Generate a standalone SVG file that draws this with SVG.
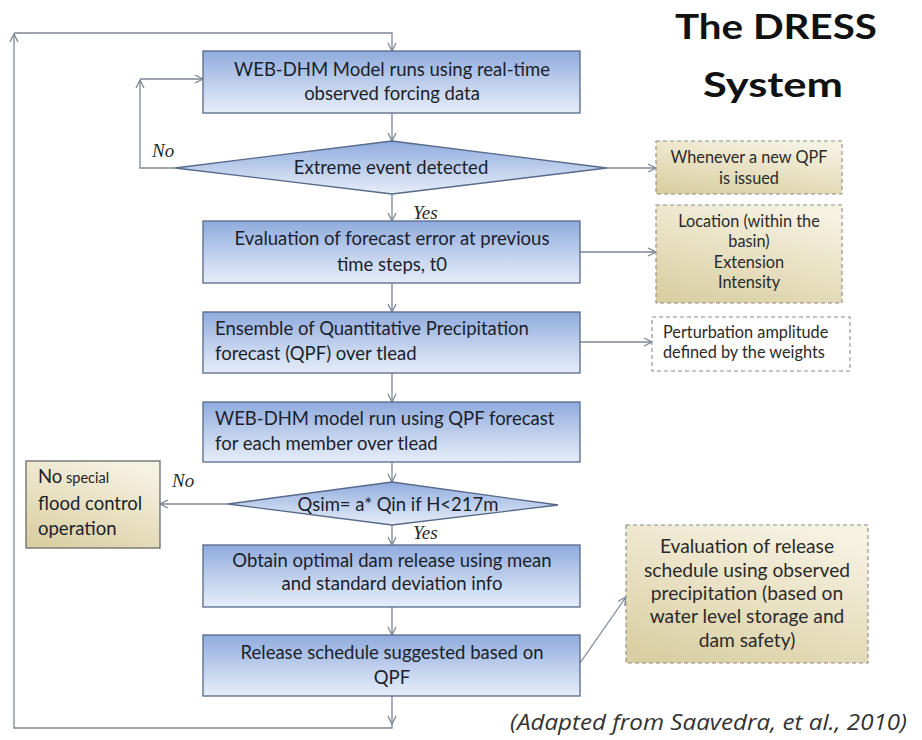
<svg xmlns="http://www.w3.org/2000/svg" width="922" height="740" viewBox="0 0 922 740">
  <defs>
    <linearGradient id="blueFill" x1="0" y1="0" x2="0" y2="1">
      <stop offset="0" stop-color="#8fabdd"/>
      <stop offset="0.55" stop-color="#c1d1ed"/>
      <stop offset="1" stop-color="#e6edf8"/>
    </linearGradient>
    <linearGradient id="tanFill" x1="0.7" y1="0" x2="0.2" y2="1">
      <stop offset="0" stop-color="#f6f2e2"/>
      <stop offset="1" stop-color="#dacfa3"/>
    </linearGradient>
    <marker id="arrow" viewBox="0 0 10 10" refX="9" refY="5" markerWidth="10" markerHeight="10" markerUnits="userSpaceOnUse" orient="auto">
      <path d="M1,1 L9,5 L1,9" fill="none" stroke="#7d8694" stroke-width="1.3"/>
    </marker>
    <style>
      .box { fill: url(#blueFill); stroke: #56698a; stroke-width: 1.3; }
      .note { fill: url(#tanFill); stroke: #8c8a86; stroke-width: 1.1; stroke-dasharray: 4 3; }
      .noteWhite { fill: #ffffff; stroke: #8c8a86; stroke-width: 1.1; stroke-dasharray: 4 3; }
      .solidNote { fill: url(#tanFill); stroke: #6a6a6a; stroke-width: 1.3; }
      .t { font-family: Lato, "Open Sans", sans-serif; font-size: 18.5px; fill: #1a1f2b; }
      .c { text-anchor: middle; }
      .s { font-family: Lato, "Open Sans", sans-serif; font-size: 16.3px; fill: #2a2a2a; }
      .m { font-family: Lato, "Open Sans", sans-serif; font-size: 19.2px; fill: #2a2a2a; }
      .lbl { font-family: "Liberation Serif", serif; font-style: italic; font-size: 19px; fill: #2a2a2a; }
      .title { font-family: Lato, "Open Sans", sans-serif; font-weight: bold; font-size: 34px; fill: #111111; text-anchor: middle; }
      .cite { font-family: "Open Sans", Lato, sans-serif; font-style: italic; font-size: 21px; fill: #333333; }
      .conn { fill: none; stroke: #7d8694; stroke-width: 1.3; }
    </style>
  </defs>

  <rect width="922" height="740" fill="#ffffff"/>

  <!-- connectors -->
  <g id="connectors" class="conn">
    <path d="M392,696 V724" marker-end="url(#arrow)"/>
    <path d="M392,724 V728 H14 V34" marker-end="url(#arrow)"/>
    <path d="M14,33 H392 V51" marker-end="url(#arrow)"/>
    <path d="M392,113 V141" marker-end="url(#arrow)"/>
    <path d="M175,168 H140 V80" marker-end="url(#arrow)"/>
    <path d="M140,79 H203" marker-end="url(#arrow)"/>
    <path d="M607,168 H656" marker-end="url(#arrow)"/>
    <path d="M392,194 V221" marker-end="url(#arrow)"/>
    <path d="M580,252 H656" marker-end="url(#arrow)"/>
    <path d="M392,283 V312" marker-end="url(#arrow)"/>
    <path d="M580,342 H652" marker-end="url(#arrow)"/>
    <path d="M392,373 V402" marker-end="url(#arrow)"/>
    <path d="M392,462 V482" marker-end="url(#arrow)"/>
    <path d="M228,504 H160" marker-end="url(#arrow)"/>
    <path d="M392,525 V545" marker-end="url(#arrow)"/>
    <path d="M392,607 V635" marker-end="url(#arrow)"/>
    <path d="M580,663 L626,597" marker-end="url(#arrow)"/>
  </g>

  <!-- branch labels -->
  <g id="labels">
    <text class="lbl" x="152" y="157">No</text>
    <text class="lbl" x="413" y="219">Yes</text>
    <text class="lbl" x="172" y="487">No</text>
    <text class="lbl" x="413" y="539">Yes</text>
  </g>

  <g id="title">
    <text class="title" x="776" y="39" textLength="202" lengthAdjust="spacingAndGlyphs">The DRESS</text>
    <text class="title" x="773" y="97" textLength="140" lengthAdjust="spacingAndGlyphs">System</text>
  </g>

  <g id="model-run">
    <rect class="box" x="203" y="51" width="377" height="62"/>
    <text class="t c" x="392" y="76">WEB-DHM Model runs using real-time</text>
    <text class="t c" x="392" y="100">observed forcing data</text>
  </g>

  <g id="extreme-event">
    <polygon class="box" points="175,168 392,141 607,168 392,194"/>
    <text class="t c" x="391" y="174">Extreme event detected</text>
  </g>

  <g id="qpf-issued">
    <rect class="note" x="656" y="141" width="186" height="53"/>
    <text class="s c" x="749" y="163">Whenever a new QPF</text>
    <text class="s c" x="749" y="184">is issued</text>
  </g>

  <g id="forecast-error">
    <rect class="box" x="203" y="221" width="377" height="62"/>
    <text class="t c" x="392" y="245">Evaluation of forecast error at previous</text>
    <text class="t c" x="392" y="271">time steps, t0</text>
  </g>

  <g id="location">
    <rect class="note" x="656" y="205" width="186" height="98"/>
    <text class="s c" x="749" y="227">Location (within the</text>
    <text class="s c" x="749" y="247">basin)</text>
    <text class="s c" x="749" y="268">Extension</text>
    <text class="s c" x="749" y="288">Intensity</text>
  </g>

  <g id="ensemble-qpf">
    <rect class="box" x="203" y="312" width="377" height="61"/>
    <text class="t" x="215" y="335">Ensemble of Quantitative Precipitation</text>
    <text class="t" x="215" y="360">forecast (QPF) over tlead</text>
  </g>

  <g id="perturbation">
    <rect class="noteWhite" x="652" y="317" width="198" height="54"/>
    <text class="s" x="663" y="338">Perturbation amplitude</text>
    <text class="s" x="663" y="358">defined by the weights</text>
  </g>

  <g id="member-run">
    <rect class="box" x="203" y="402" width="377" height="60"/>
    <text class="t" x="215" y="425">WEB-DHM model run using QPF forecast</text>
    <text class="t" x="215" y="450">for each member over tlead</text>
  </g>

  <g id="threshold">
    <polygon class="box" points="228,504 392,482 558,505 392,525"/>
    <text class="t c" x="398" y="511">Qsim= a* Qin if H&lt;217m</text>
  </g>

  <g id="no-operation">
    <rect class="solidNote" x="26" y="461" width="134" height="87"/>
    <text class="t" x="38" y="483"><tspan>No</tspan><tspan font-size="14.5px"> special</tspan></text>
    <text class="t" x="38" y="510">flood control</text>
    <text class="t" x="38" y="535">operation</text>
  </g>

  <g id="optimal-release">
    <rect class="box" x="203" y="545" width="377" height="62"/>
    <text class="t c" x="392" y="567">Obtain optimal dam release using mean</text>
    <text class="t c" x="392" y="590">and standard deviation info</text>
  </g>

  <g id="release-schedule">
    <rect class="box" x="203" y="635" width="377" height="61"/>
    <text class="t c" x="392" y="659">Release schedule suggested based on</text>
    <text class="t c" x="392" y="684">QPF</text>
  </g>

  <g id="release-evaluation">
    <rect class="note" x="626" y="525" width="242" height="138"/>
    <text class="m c" x="747" y="553">Evaluation of release</text>
    <text class="m c" x="747" y="577">schedule using observed</text>
    <text class="m c" x="747" y="600">precipitation (based on</text>
    <text class="m c" x="747" y="623">water level storage and</text>
    <text class="m c" x="747" y="647">dam safety)</text>
  </g>

  <text class="cite" x="510" y="730" textLength="397" lengthAdjust="spacingAndGlyphs">(Adapted from Saavedra, et al., 2010)</text>
</svg>
